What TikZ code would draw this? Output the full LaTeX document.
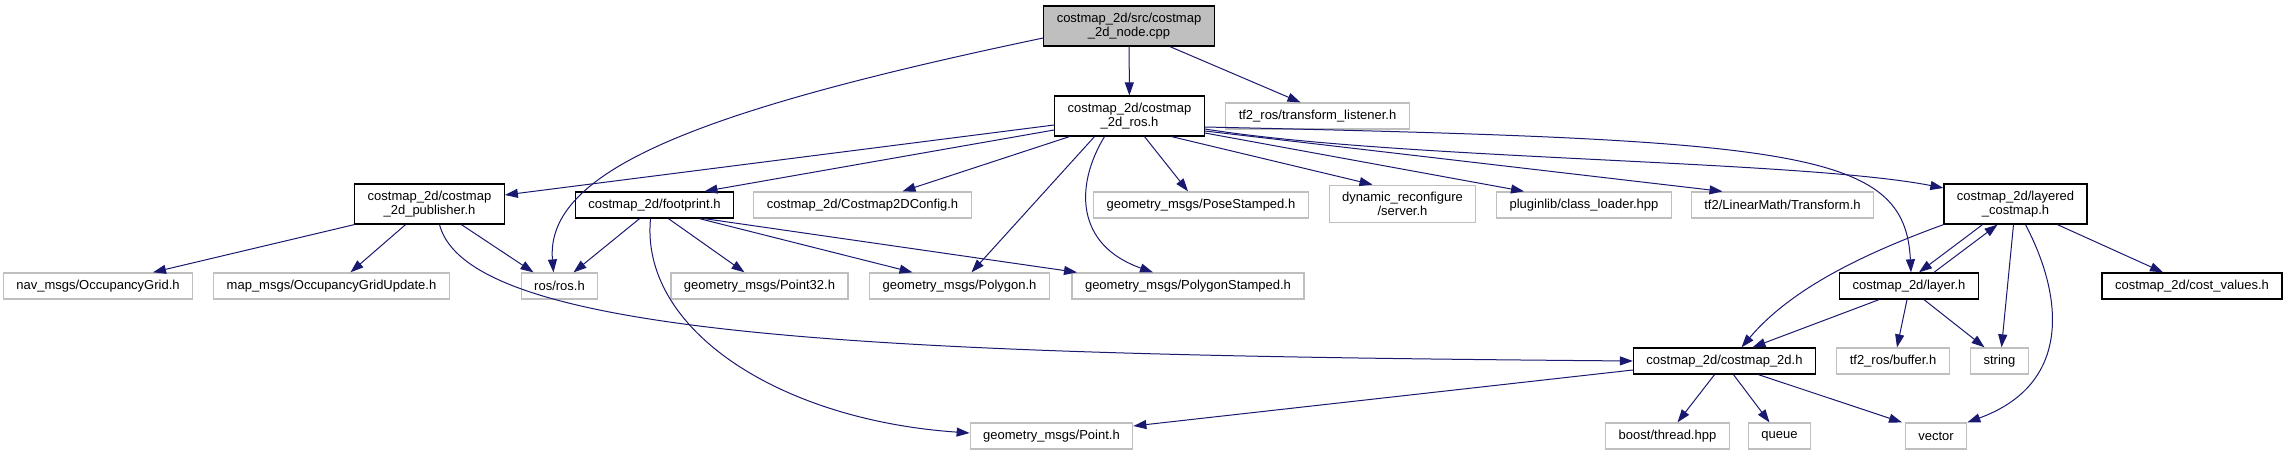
\documentclass[tikz,border=0pt]{standalone}
\usepackage{fontspec}
\setmainfont{Liberation Sans}
\usepackage{tikz}
\usetikzlibrary{arrows.meta}
\definecolor{edgec}{RGB}{25,25,112}
\definecolor{extc}{RGB}{191,191,191}

\begin{document}
\begin{tikzpicture}[x=1pt, y=-1pt,
  file/.style={rectangle, line width=1.2pt, inner xsep=13pt, inner ysep=7pt,
               minimum height=26pt, align=center, font=\fontsize{13}{14}\selectfont},
  hdr/.style={file, draw=black},
  ext/.style={file, draw=extc},
  root/.style={file, draw=black, fill=extc},
  inc/.style={-{Triangle[length=13pt, width=9pt]}, line width=1pt, color=edgec}
]
  \useasboundingbox (0,0) rectangle (2287,455);
  \node[root] (cpp) at (1129,26) {costmap\_2d/src/costmap\\\_2d\_node.cpp};
  \node[hdr] (ros) at (1129.5,116) {costmap\_2d/costmap\\\_2d\_ros.h};
  \node[ext] (tfl) at (1317.5,116) {tf2\_ros/transform\_listener.h};
  \node[hdr] (pub) at (429.5,204) {costmap\_2d/costmap\\\_2d\_publisher.h};
  \node[hdr] (fp) at (654.5,205) {costmap\_2d/footprint.h};
  \node[ext] (cfg) at (862.5,205) {costmap\_2d/Costmap2DConfig.h};
  \node[ext] (pose) at (1201,205) {geometry\_msgs/PoseStamped.h};
  \node[ext] (dyn) at (1402.5,204) {dynamic\_reconfigure\\/server.h};
  \node[ext] (plug) at (1584,205) {pluginlib/class\_loader.hpp};
  \node[ext] (transf) at (1782.5,205) {tf2/LinearMath/Transform.h};
  \node[hdr] (lay) at (2015.5,204) {costmap\_2d/layered\\\_costmap.h};
  \node[ext] (nav) at (98,286) {nav\_msgs/OccupancyGrid.h};
  \node[ext] (mapm) at (331.5,286) {map\_msgs/OccupancyGridUpdate.h};
  \node[ext] (rosh) at (559.5,286) {ros/ros.h};
  \node[ext] (pt32) at (759.5,286) {geometry\_msgs/Point32.h};
  \node[ext] (poly) at (959.5,286) {geometry\_msgs/Polygon.h};
  \node[ext] (polys) at (1188,286) {geometry\_msgs/PolygonStamped.h};
  \node[hdr] (layer) at (1909,286) {costmap\_2d/layer.h};
  \node[hdr] (costv) at (2192,286) {costmap\_2d/cost\_values.h};
  \node[hdr] (cm2d) at (1724.5,361) {costmap\_2d/costmap\_2d.h};
  \node[ext] (buf) at (1893,361) {tf2\_ros/buffer.h};
  \node[ext] (str) at (1999.5,361) {string};
  \node[ext] (point) at (1051.5,436) {geometry\_msgs/Point.h};
  \node[ext] (boost) at (1667.5,436) {boost/thread.hpp};
  \node[ext] (queue) at (1779.5,436) {queue};
  \node[ext] (vec) at (1936,436) {vector};

  \draw[inc] (cpp) -- (ros);
  \draw[inc] ([xshift=41pt]cpp.south) -- ([xshift=-17pt]tfl.north);
  \draw[inc] ([yshift=-12pt]cpp.west) .. controls (700,110) and (545,170) .. ([xshift=-6pt]rosh.north);

  \draw[inc] ([yshift=-9pt]ros.west) -- ([yshift=9pt]pub.east);
  \draw[inc] ([yshift=-14pt]ros.west) -- ([xshift=50pt]fp.north);
  \draw[inc] ([xshift=-60pt]ros.south) -- ([xshift=40pt]cfg.north);
  \draw[inc] ([xshift=-35pt]ros.south) -- ([xshift=12pt]poly.north);
  \draw[inc] ([xshift=-25pt]ros.south) .. controls (1075,185) and (1075,245) .. ([xshift=-35pt]polys.north);
  \draw[inc] ([xshift=15pt]ros.south) -- ([xshift=-13pt]pose.north);
  \draw[inc] ([xshift=42pt]ros.south) -- ([xshift=-30pt]dyn.north);
  \draw[inc] ([yshift=-17pt]ros.east) -- ([xshift=-60pt]plug.north);
  \draw[inc] ([yshift=-15pt]ros.east) -- ([xshift=-60pt]transf.north);
  \draw[inc] ([yshift=-13pt]ros.east) .. controls (1400,160) and (1800,160) .. ([yshift=16pt]lay.west);
  \draw[inc] ([yshift=-11pt]ros.east) .. controls (1800,140) and (1905,150) .. ([xshift=2pt]layer.north);

  \draw[inc] (pub.south west) -- ([xshift=55pt]nav.north);
  \draw[inc] ([xshift=-24pt]pub.south) -- ([xshift=19pt]mapm.north);
  \draw[inc] ([xshift=32pt]pub.south) -- ([xshift=-26pt]rosh.north);
  \draw[inc] ([xshift=10pt]pub.south) .. controls (470,340) and (900,355) .. (cm2d.west);

  \draw[inc] ([xshift=-15pt]fp.south) -- ([xshift=14pt]rosh.north);
  \draw[inc] ([xshift=14pt]fp.south) -- ([xshift=-15pt]pt32.north);
  \draw[inc] ([xshift=45pt]fp.south) -- ([xshift=-47pt]poly.north);
  \draw[inc] ([xshift=50pt]fp.south) -- ([xshift=-111pt]polys.north);
  \draw[inc] ([xshift=-4pt]fp.south) .. controls (640,330) and (780,420) .. ([yshift=3pt]point.west);

  \draw[inc] (lay.south west) .. controls (1860,255) and (1790,290) .. ([xshift=17pt]cm2d.north);
  \draw[inc] ([xshift=-33pt]lay.south) -- ([xshift=10pt]layer.north);
  \draw[inc] ([xshift=25pt]layer.north) -- ([xshift=-18pt]lay.south);
  \draw[inc] ([xshift=-2pt]lay.south) -- ([xshift=2pt]str.north);
  \draw[inc] ([xshift=10pt]lay.south) .. controls (2065,300) and (2070,385) .. (vec.north east);
  \draw[inc] ([xshift=42pt]lay.south) -- ([xshift=-29pt]costv.north);

  \draw[inc] ([xshift=-30pt]layer.south) -- ([xshift=28pt]cm2d.north);
  \draw[inc] ([xshift=-2pt]layer.south) -- ([xshift=4pt]buf.north);
  \draw[inc] ([xshift=15pt]layer.south) -- ([xshift=-15pt]str.north);

  \draw[inc] ([yshift=-9pt]cm2d.west) -- ([yshift=10pt]point.east);
  \draw[inc] ([xshift=-10pt]cm2d.south) -- ([xshift=10pt]boost.north);
  \draw[inc] ([xshift=9pt]cm2d.south) -- ([xshift=-10pt]queue.north);
  \draw[inc] ([xshift=34pt]cm2d.south) -- ([xshift=-34pt]vec.north);
\end{tikzpicture}
\end{document}
